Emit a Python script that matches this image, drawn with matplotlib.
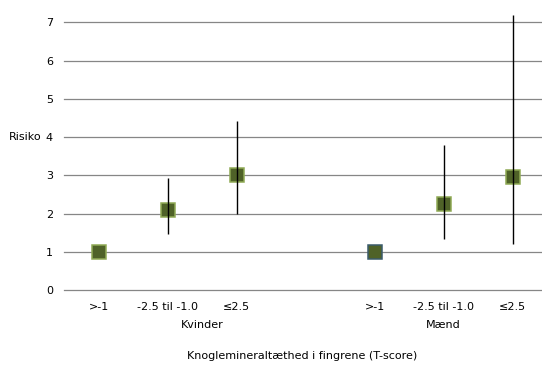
import numpy as np
import matplotlib
matplotlib.use("Agg")
import matplotlib.pyplot as plt

# 数据：分组、T-score 分类、风险值与置信区间
groups = ["Kvinder", "Mænd"]
categories = [">-1", "-2.5 til -1.0", "≤2.5"]

kvinder_risk = [1.0, 2.1, 3.0]
kvinder_low = [None, 1.47, 2.0]
kvinder_high = [None, 2.93, 4.43]

maend_risk = [1.0, 2.25, 2.96]
maend_low = [None, 1.34, 1.19]
maend_high = [None, 3.78, 7.18]

y_ticks = [0, 1, 2, 3, 4, 5, 6, 7]

# 位置：Kvinder 占 0-2，空一格，Mænd 占 4-6
pos_k = np.arange(len(categories))
pos_m = np.arange(len(categories)) + len(categories) + 1

fill = "#4F6228"
edge_k = "#8FAA55"
edge_m = ["#3B5B6B", "#8FAA55", "#8FAA55"]

fig = plt.figure(figsize=(5.42, 3.72), dpi=100)
unit = 38.24
ax = fig.add_axes([64 / 542, 82 / 372, 483 / 542, 7.5 * unit / 372])
ax.set_xlim(-0.5, 6.5)
ax.set_ylim(0, 7.5)

for s in ax.spines.values():
    s.set_visible(False)

for y in y_ticks:
    ax.axhline(y, color="#868686", lw=0.9, zorder=1, clip_on=False)

# 标记
ax.plot(pos_k, kvinder_risk, "s", ms=10, mfc=fill, mec=edge_k, mew=1.1,
        linestyle="none", zorder=3)
for x, v, ec in zip(pos_m, maend_risk, edge_m):
    ax.plot(x, v, "s", ms=10, mfc=fill, mec=ec, mew=1.1, zorder=3)

# 置信区间
for xs, lo, hi in [(pos_k, kvinder_low, kvinder_high), (pos_m, maend_low, maend_high)]:
    for x, l, h in zip(xs, lo, hi):
        if l is not None:
            ax.vlines(x, l, h, color="black", lw=1.0, zorder=4, clip_on=False)

ax.set_yticks(y_ticks)
ax.set_yticklabels([str(t) for t in y_ticks], fontsize=8)
ax.set_xticks(list(pos_k) + list(pos_m))
ax.set_xticklabels(categories + categories, fontsize=8)
ax.tick_params(axis="both", length=0, colors="black")
ax.tick_params(axis="y", pad=8)
ax.tick_params(axis="x", pad=9)

ax.annotate("Risiko", xy=(0, 4), xycoords=("axes fraction", "data"),
            xytext=(-16, 0), textcoords="offset points",
            ha="right", va="center", fontsize=8)

trans = ax.get_xaxis_transform()
ax.annotate(groups[0], xy=(1.5, 0), xycoords=trans, xytext=(0, -25),
            textcoords="offset points", ha="center", va="center", fontsize=8)
ax.annotate(groups[1], xy=(pos_m[1], 0), xycoords=trans, xytext=(0, -25),
            textcoords="offset points", ha="center", va="center", fontsize=8)

fig.text(302 / 542, 1 - 356 / 372, "Knoglemineraltæthed i fingrene (T-score)",
         ha="center", va="center", fontsize=8)

fig.savefig("out.png", dpi=100)
